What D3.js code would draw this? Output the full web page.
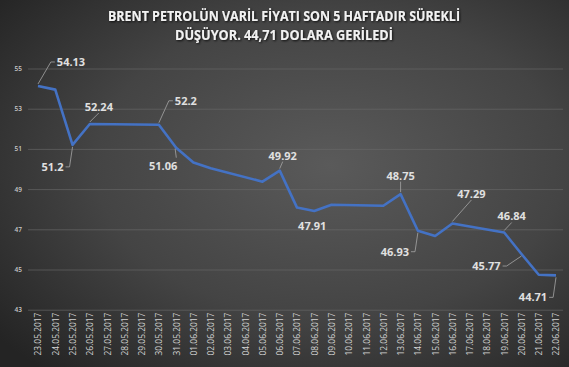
<!DOCTYPE html>
<html><head><meta charset="utf-8">
<script src="https://cdn.jsdelivr.net/npm/d3@7"></script>
<style>
html,body{margin:0;padding:0;background:#333;}
svg{display:block;}
</style></head>
<body>
<svg id="chart" width="569" height="367"></svg>
<script>
// ---- data ----
const titleLines = ["BRENT PETROLÜN VARİL FİYATI SON 5 HAFTADIR SÜREKLİ", "DÜŞÜYOR. 44,71 DOLARA GERİLEDİ"];
const dates = ["23.05.2017","24.05.2017","25.05.2017","26.05.2017","27.05.2017","28.05.2017","29.05.2017","30.05.2017","31.05.2017",
  "01.06.2017","02.06.2017","03.06.2017","04.06.2017","05.06.2017","06.06.2017","07.06.2017","08.06.2017","09.06.2017","10.06.2017",
  "11.06.2017","12.06.2017","13.06.2017","14.06.2017","15.06.2017","16.06.2017","17.06.2017","18.06.2017","19.06.2017","20.06.2017",
  "21.06.2017","22.06.2017"];
const prices = [54.13, 53.95, 51.2, 52.24, null, null, null, 52.2, 51.06,
  50.32, 50.04, null, null, 49.37, 49.92, 48.08, 47.91, 48.22, null,
  null, 48.17, 48.75, 46.93, 46.67, 47.29, null, null, 46.84, 45.77,
  44.74, 44.71];
const labeledDates = ["23.05.2017","25.05.2017","26.05.2017","30.05.2017","31.05.2017","06.06.2017","08.06.2017",
  "13.06.2017","14.06.2017","16.06.2017","19.06.2017","20.06.2017","22.06.2017"];
const yTicks = [43, 45, 47, 49, 51, 53, 55];

// ---- layout (label placement relative to its point, in px) ----
const labelLayout = {
  "23.05.2017": {dx: 33, dy: -24, leader: "side"},
  "25.05.2017": {dx: -20, dy: 22, leader: "side"},
  "26.05.2017": {dx: 9, dy: -17, leader: "bottom"},
  "30.05.2017": {dx: 27, dy: -24, leader: "side"},
  "31.05.2017": {dx: -13, dy: 18, leader: "topright"},
  "06.06.2017": {dx: 3, dy: -15, leader: "bottom"},
  "08.06.2017": {dx: -2, dy: 15, leader: "none"},
  "13.06.2017": {dx: 0, dy: -18.5, leader: "bottom"},
  "14.06.2017": {dx: -23, dy: 21, leader: "side"},
  "16.06.2017": {dx: 19, dy: -29.5, leader: "bottom"},
  "19.06.2017": {dx: 7.5, dy: -16, leader: "bottom"},
  "20.06.2017": {dx: -35, dy: 12, leader: "side"},
  "22.06.2017": {dx: -23, dy: 22, leader: "side"}
};

const W = 569, H = 367;
const svg = d3.select("#chart");
const defs = svg.append("defs");

const grad = defs.append("radialGradient").attr("id", "bg")
  .attr("cx", "58%").attr("cy", "45%").attr("r", "75%");
grad.append("stop").attr("offset", "0%").attr("stop-color", "#5a5a5a");
grad.append("stop").attr("offset", "55%").attr("stop-color", "#444444");
grad.append("stop").attr("offset", "100%").attr("stop-color", "#242424");

const sh = defs.append("filter").attr("id", "tshadow").attr("x", "-10%").attr("y", "-30%").attr("width", "120%").attr("height", "160%");
sh.append("feDropShadow").attr("dx", 1).attr("dy", 1).attr("stdDeviation", 0.8).attr("flood-color", "#000").attr("flood-opacity", 0.8);

svg.append("rect").attr("width", W).attr("height", H).attr("fill", "url(#bg)");

// title
svg.append("g").selectAll("text").data(titleLines).join("text")
  .attr("x", 284).attr("y", (d, i) => 21 + i * 18.5)
  .attr("text-anchor", "middle")
  .attr("font-family", "'Open Sans', sans-serif").attr("font-weight", 700)
  .attr("font-size", 14.5)
  .attr("textLength", (d, i) => i === 0 ? 352 : 218)
  .attr("lengthAdjust", "spacingAndGlyphs")
  .attr("fill", "#f2f2f2").attr("filter", "url(#tshadow)")
  .text(d => d);

// scales
const x = d3.scalePoint().domain(dates).range([38, 556]);
const y = d3.scaleLinear().domain([43, 55]).range([309.7, 68.5]);
const plotLeft = 28, plotRight = 563;

// grid
const yAxis = d3.axisLeft(y).tickValues(yTicks).tickSize(-(plotRight - plotLeft)).tickPadding(6).tickFormat(d3.format("d"));
const gy = svg.append("g").attr("transform", `translate(${plotLeft},0)`).call(yAxis);
gy.select(".domain").remove();
gy.selectAll(".tick line").attr("stroke", "#6a6a6a").attr("stroke-width", 0.8).attr("stroke-opacity", 0.8);
gy.selectAll(".tick text").attr("fill", "#c8c8c8").attr("font-size", 6.5)
  .attr("font-family", "'Open Sans', sans-serif").attr("font-weight", 600);

// x axis labels
const xAxis = d3.axisBottom(x).tickSize(0).tickPadding(0);
const gx = svg.append("g").attr("transform", `translate(0,${y(43)})`).call(xAxis);
gx.select(".domain").remove();
gx.selectAll(".tick text")
  .attr("transform", "rotate(-90)")
  .attr("text-anchor", "end")
  .attr("x", -3).attr("y", 0).attr("dy", "0.35em")
  .attr("fill", "#d4d4d4").attr("font-size", 8.4)
  .attr("font-family", "'Open Sans', sans-serif");

// line (missing days are connected straight across)
const pts = dates.map((d, i) => ({date: d, v: prices[i]})).filter(p => p.v !== null);
const line = d3.line().x(p => x(p.date)).y(p => y(p.v));
svg.append("path").datum(pts).attr("d", line)
  .attr("fill", "none").attr("stroke", "#4472c4").attr("stroke-width", 2.6)
  .attr("stroke-linejoin", "round");

// data labels
const fs = 11;
const lblG = svg.append("g");
labeledDates.forEach(d => {
  const i = dates.indexOf(d);
  const v = prices[i];
  const px = x(d), py = y(v);
  const L = labelLayout[d];
  const cx = px + L.dx, cy = py + L.dy;
  const t = lblG.append("text").attr("x", cx).attr("y", cy).attr("dy", "0.36em")
    .attr("text-anchor", "middle")
    .attr("font-family", "'Open Sans', sans-serif").attr("font-weight", 700)
    .attr("font-size", fs).attr("fill", "#e0e0e0")
    .text(String(v));
  const w = t.node().getComputedTextLength();
  let path = null;
  if (L.leader === "side") {
    const s = Math.sign(L.dx);
    const ex = cx - s * (w / 2 + 2);
    const elx = ex - s * 4;
    path = [[px, py + Math.sign(L.dy) * 2], [elx, cy], [ex, cy]];
  } else if (L.leader === "bottom") {
    path = [[px, py - 2], [cx, cy + 6]];
  } else if (L.leader === "topright") {
    path = [[px - 1, py + 1], [cx + w / 2 - 1, cy - 8]];
  }
  if (path) {
    lblG.insert("path", "text").attr("d", d3.line()(path))
      .attr("fill", "none").attr("stroke", "#a6a6a6").attr("stroke-width", 0.8);
  }
});
</script>
</body></html>
